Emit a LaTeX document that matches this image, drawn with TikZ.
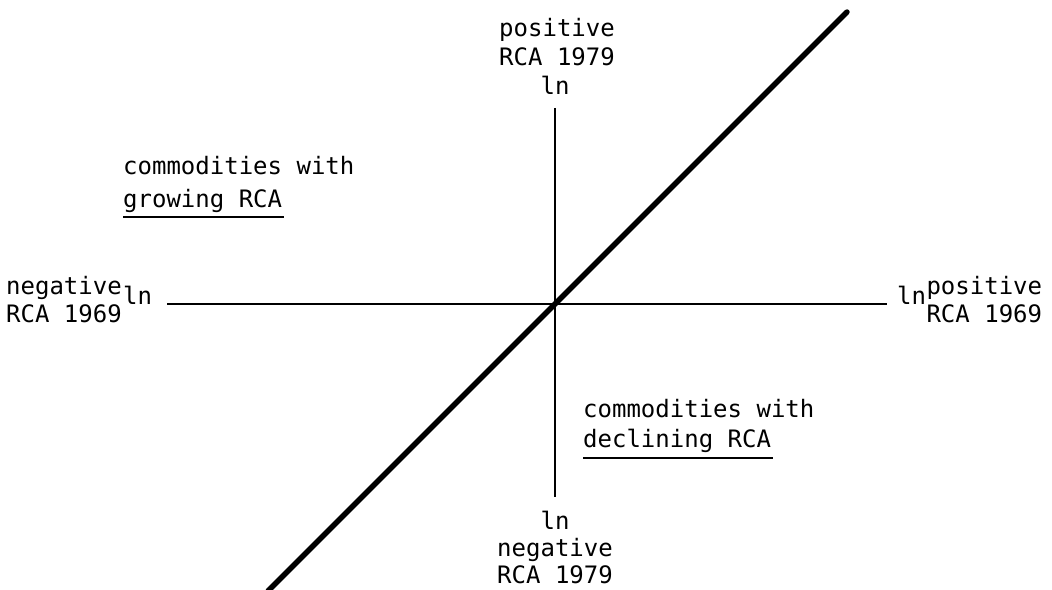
\documentclass[tikz,border=0pt]{standalone}
\usepackage{fontspec}
\newfontfamily\plotfont{DejaVu Sans Mono}
\begin{document}
\begin{tikzpicture}[x=1pt,y=1pt,
  lbl/.style={inner sep=0pt,font=\plotfont\fontsize{24}{30}\selectfont},
  axis/.style={line width=2.6pt},
  diag/.style={line width=5.4pt,line cap=round},
  uline/.style={line width=2pt}]
\useasboundingbox (0,0) rectangle (1052,589);
% axes
\coordinate (O) at (555,285);
\coordinate (hl) at (167,285);
\coordinate (hr) at (887,285);
\coordinate (vt) at (555,481);
\coordinate (vb) at (555,92);
\coordinate (dl) at (268,-2);
\coordinate (dr) at (847,577);
\draw[axis] (hl) -- (hr);
\draw[axis] (vt) -- (vb);
\draw[diag] (dl) -- (dr);
% top labels
\node[lbl,anchor=base] (tpos) at (557,552) {positive};
\node[lbl,anchor=base] (trca) at (557,523) {RCA 1979};
\node[lbl,anchor=base] (tln) at (555,494) {ln};
% bottom labels
\node[lbl,anchor=base] (bln) at (555,59) {ln};
\node[lbl,anchor=base] (bneg) at (555,32) {negative};
\node[lbl,anchor=base] (brca) at (555,5) {RCA 1979};
% left labels
\node[lbl,anchor=base west] (lneg) at (6,294) {negative};
\node[lbl,anchor=base west] (lrca) at (6,266) {RCA 1969};
\node[lbl,anchor=base west] (lln) at ([xshift=1pt]lneg.east |- 0,284) {ln};
% right labels
\node[lbl,anchor=base west] (rln) at (897,284) {ln};
\node[lbl,anchor=base west] (rpos) at ([xshift=0pt]rln.east |- 0,294) {positive};
\node[lbl,anchor=base west] (rrca) at (rpos.west |- 0,266) {RCA 1969};
% quadrant labels
\node[lbl,anchor=base west] (gc) at (123,414) {commodities with};
\node[lbl,anchor=base west] (gr) at (123,381) {growing RCA};
\draw[uline] ([yshift=-9pt]gr.base west) -- ([yshift=-9pt,xshift=2pt]gr.base east);
\node[lbl,anchor=base west] (dc) at (583,171) {commodities with};
\node[lbl,anchor=base west] (dd) at (583,141) {declining RCA};
\draw[uline] ([yshift=-10pt]dd.base west) -- ([yshift=-10pt,xshift=2pt]dd.base east);
\end{tikzpicture}
\end{document}
